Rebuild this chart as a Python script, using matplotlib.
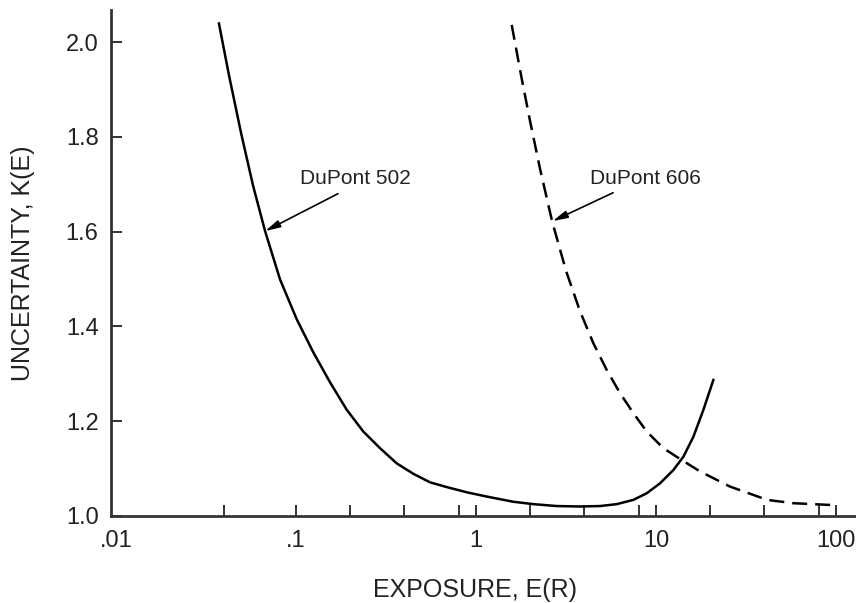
import matplotlib.pyplot as plt

plt.rcParams['font.family'] = ['Liberation Sans', 'DejaVu Sans']

# DuPont 502 (solid)
e_502 = [0.0373, 0.0424, 0.0495, 0.0577, 0.0673, 0.0815, 0.1009, 0.1248,
         0.1545, 0.1913, 0.2366, 0.2929, 0.3625, 0.4483, 0.555, 0.6871,
         0.8876, 1.146, 1.612, 2.080, 2.805, 3.782, 4.885, 6.050, 7.480,
         8.879, 10.52, 12.48, 14.18, 16.11, 18.32, 20.81]
k_502 = [2.039, 1.930, 1.808, 1.697, 1.601, 1.499, 1.415, 1.345,
         1.282, 1.224, 1.178, 1.143, 1.111, 1.089, 1.071, 1.061,
         1.050, 1.041, 1.030, 1.025, 1.021, 1.020, 1.021, 1.025, 1.034,
         1.048, 1.069, 1.097, 1.125, 1.167, 1.224, 1.287]

# DuPont 606 (dashed)
e_606 = [1.578, 1.778, 1.995, 2.268, 2.644, 3.162, 3.78, 4.49, 5.32, 6.31,
         7.48, 8.88, 10.98, 13.89, 17.55, 25.77, 41.4, 57.7, 96.2]
k_606 = [2.036, 1.930, 1.833, 1.732, 1.622, 1.517, 1.432, 1.364, 1.308, 1.259,
         1.217, 1.178, 1.143, 1.118, 1.094, 1.062, 1.034, 1.027, 1.023]

x_ticks = [0.04, 0.1, 0.2, 0.4, 0.8, 1, 2, 4, 8, 10, 20, 40, 80, 100]
x_labels = {0.01: ".01", 0.1: ".1", 1: "1", 10: "10", 100: "100"}
y_ticks = [1.0, 1.2, 1.4, 1.6, 1.8, 2.0]

fig = plt.figure(figsize=(8.56, 6.03), dpi=100)
ax = fig.add_axes([0.1297, 0.1443, 0.8703, 0.8391])

ax.plot(e_502, k_502, color="black", linewidth=1.8)
ax.plot(e_606, k_606, color="black", linewidth=1.8, dashes=(6, 3.2))

ax.set_xscale("log")
ax.set_xlim(0.00938, 129)
ax.set_ylim(1.0, 2.0675)

ax.set_xticks(x_ticks)
ax.set_xticklabels([""] * len(x_ticks))
ax.xaxis.set_minor_locator(plt.NullLocator())
for v, s in x_labels.items():
    ax.text(v, -0.049, s, transform=ax.get_xaxis_transform(),
            ha="center", va="center", fontsize=17, color="#222222")

ax.set_yticks(y_ticks)
ax.set_yticklabels([f"{v:.1f}" for v in y_ticks])

for side in ["top", "right"]:
    ax.spines[side].set_visible(False)
for side in ["left", "bottom"]:
    ax.spines[side].set_linewidth(2.0)
    ax.spines[side].set_color("#333333")

ax.tick_params(axis="x", direction="in", length=8, width=1.4,
               colors="#333333")
ax.tick_params(axis="y", direction="in", length=8, width=1.4,
               colors="#333333", labelsize=17, pad=9)
ax.tick_params(labelcolor="#222222")

ax.set_xlabel("EXPOSURE, E(R)", fontsize=18, color="#222222")
ax.xaxis.set_label_coords(0.489, -0.1225)
ax.set_ylabel("UNCERTAINTY, K(E)", fontsize=18, color="#222222")
ax.yaxis.set_label_coords(-0.102, 0.5)

arrow = dict(arrowstyle="-|>,head_length=0.9,head_width=0.22",
             color="black", linewidth=1.2, shrinkA=0, shrinkB=0)
ax.annotate("", xy=(0.0673, 1.601), xytext=(0.171, 1.680), arrowprops=arrow)
ax.text(0.105, 1.712, "DuPont 502", fontsize=15, va="center", ha="left",
        color="#222222")
ax.annotate("", xy=(2.66, 1.622), xytext=(5.77, 1.682), arrowprops=arrow)
ax.text(4.30, 1.712, "DuPont 606", fontsize=15, va="center", ha="left",
        color="#222222")

fig.savefig("out.png", dpi=100)
